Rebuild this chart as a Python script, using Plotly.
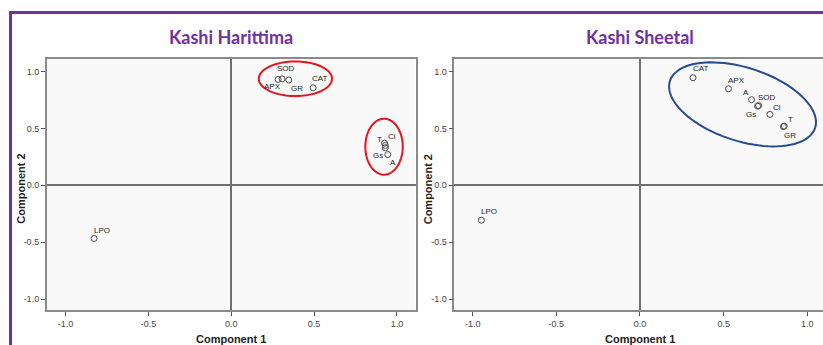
import numpy as np
import plotly.graph_objects as go

W, H = 823, 345

# ---- loadings (Component 1, Component 2) ----
har_vars = ["APX", "SOD", "GR", "CAT", "T", "Ci", "Gs", "A", "LPO"]
har_c1 = [0.283, 0.307, 0.347, 0.494, 0.925, 0.930, 0.930, 0.945, -0.828]
har_c2 = [0.930, 0.935, 0.925, 0.857, 0.370, 0.350, 0.330, 0.270, -0.468]

she_vars = ["CAT", "APX", "A", "SOD", "Gs", "Ci", "T", "GR", "LPO"]
she_c1 = [0.317, 0.529, 0.667, 0.709, 0.703, 0.777, 0.862, 0.857, -0.948]
she_c2 = [0.945, 0.848, 0.752, 0.700, 0.695, 0.623, 0.520, 0.515, -0.307]

tick_vals = [-1.0, -0.5, 0.0, 0.5, 1.0]
tick_text = ["-1.0", "-0.5", "0.0", "0.5", "1.0"]

# label offsets from each point, in pixels (dx right, dy down)
har_offsets = [(-6, 7), (4, -10), (8, 8), (7, -9), (-5, -4), (7, -9), (-7, 8), (5, 8), (8, -8)]
she_offsets = [(8, -9), (8, -8), (-6, -7), (8, -8), (-7, 8), (7, -7), (6, -7), (7, 9), (8, -9)]

PURPLE = "#7030A0"
FRAME = "#8a8a8a"
ZERO = "#6f6f6f"

fig = go.Figure()

panels = [
    dict(name="Kashi Harittima", vars=har_vars, c1=har_c1, c2=har_c2, offs=har_offsets,
         xdom=(46.7, 415.5), xr=(-1.114, 1.112), xa="x", ya="y", mirror_right=True),
    dict(name="Kashi Sheetal", vars=she_vars, c1=she_c1, c2=she_c2, offs=she_offsets,
         xdom=(454.3, 823.0), xr=(-1.11, 1.094), xa="x2", ya="y2", mirror_right=False),
]
ydom_px = (58.5, 310.0)
yr = (-1.096, 1.114)

annotations = []
shapes = []

for i, p in enumerate(panels):
    fig.add_trace(go.Scatter(
        x=p["c1"], y=p["c2"], mode="markers", xaxis=p["xa"], yaxis=p["ya"],
        marker=dict(symbol="circle-open", size=6, color="#4a4a4a", line=dict(width=1)),
        hoverinfo="text", text=p["vars"], showlegend=False,
    ))
    for v, x, y, (dx, dy) in zip(p["vars"], p["c1"], p["c2"], p["offs"]):
        annotations.append(dict(
            x=x, y=y, xref=p["xa"], yref=p["ya"], text=v, showarrow=False,
            xshift=dx, yshift=-dy, font=dict(family="Arial", size=8, color="#222"),
        ))
    xd = (p["xdom"][0] / W, p["xdom"][1] / W)
    yd = (1 - ydom_px[1] / H, 1 - ydom_px[0] / H)
    axis_common = dict(
        showgrid=False, zeroline=True, zerolinecolor=ZERO, zerolinewidth=1.5,
        showline=True, linecolor=FRAME, linewidth=1.5,
        ticks="outside", ticklen=4, tickcolor="#555", tickwidth=1,
        tickvals=tick_vals, ticktext=tick_text,
        tickfont=dict(family="Arial", size=9, color="#444"),
        fixedrange=True,
    )
    xkey = "xaxis" if i == 0 else "xaxis2"
    ykey = "yaxis" if i == 0 else "yaxis2"
    fig.update_layout(**{
        xkey: dict(domain=list(xd), range=list(p["xr"]), anchor=p["ya"],
                   mirror=True, **axis_common),
        ykey: dict(domain=list(yd), range=list(yr), anchor=p["xa"],
                   mirror=p["mirror_right"], **axis_common),
    })
    # panel title and axis titles
    xc = p["xdom"][0] + (0 - p["xr"][0]) / (p["xr"][1] - p["xr"][0]) * (p["xdom"][1] - p["xdom"][0])
    annotations.append(dict(x=xc / W, y=1 - 37 / H, xref="paper", yref="paper",
                            text="<b>%s</b>" % p["name"], showarrow=False,
                            xanchor="center", yanchor="middle",
                            font=dict(family="Lato", size=18, color=PURPLE)))
    annotations.append(dict(x=xc / W, y=1 - 338.5 / H, xref="paper", yref="paper",
                            text="<b>Component 1</b>", showarrow=False,
                            xanchor="center", yanchor="middle",
                            font=dict(family="Arial", size=11, color="#222")))
    annotations.append(dict(x=(p["xdom"][0] - 26) / W, y=1 - 189 / H, xref="paper", yref="paper",
                            text="<b>Component 2</b>", showarrow=False, textangle=-90,
                            xanchor="center", yanchor="middle",
                            font=dict(family="Arial", size=11, color="#222")))


def ellipse_path(cx, cy, a, b, ang_deg, xdom_px, xr, n=90):
    """Closed SVG path of an ellipse; a, b in x-data units, angle on screen."""
    px_per_x = (xdom_px[1] - xdom_px[0]) / (xr[1] - xr[0])
    px_per_y = (ydom_px[1] - ydom_px[0]) / (yr[1] - yr[0])
    k = px_per_x / px_per_y
    t = np.linspace(0, 2 * np.pi, n)
    th = np.radians(ang_deg)
    ex = a * np.cos(t)
    ey = b * np.sin(t)
    rx = ex * np.cos(th) - ey * np.sin(th)
    ry = ex * np.sin(th) + ey * np.cos(th)
    xs = cx + rx
    ys = cy + ry * k
    pts = ["%s%.4f,%.4f" % ("M" if j == 0 else "L", xx, yy) for j, (xx, yy) in enumerate(zip(xs, ys))]
    return " ".join(pts) + " Z"


# cluster outlines
p0, p1 = panels
shapes.append(dict(type="path", xref="x", yref="y", line=dict(color="#e8141b", width=2),
                   path=ellipse_path(0.387, 0.936, 0.221, 0.152 * 114 / 166, 0, p0["xdom"], p0["xr"])))
shapes.append(dict(type="path", xref="x", yref="y", line=dict(color="#e8141b", width=2),
                   path=ellipse_path(0.922, 0.339, 0.113, 0.246 * 114 / 166, 0, p0["xdom"], p0["xr"])))
shapes.append(dict(type="path", xref="x2", yref="y2", line=dict(color="#274b8f", width=2),
                   path=ellipse_path(0.613, 0.711, 0.456, 0.219, -17.9, p1["xdom"], p1["xr"])))

# purple outer frame
shapes.append(dict(type="line", xref="paper", yref="paper", x0=10.5 / W, x1=10.5 / W,
                   y0=0, y1=1 - 12.5 / H, line=dict(color=PURPLE, width=3)))
shapes.append(dict(type="line", xref="paper", yref="paper", x0=9 / W, x1=1,
                   y0=1 - 12.5 / H, y1=1 - 12.5 / H, line=dict(color=PURPLE, width=3)))

fig.update_layout(
    width=W, height=H, margin=dict(l=0, r=0, t=0, b=0),
    paper_bgcolor="white", plot_bgcolor="#f9f9f9",
    annotations=annotations, shapes=shapes, showlegend=False,
)

fig.write_html("out.html")
